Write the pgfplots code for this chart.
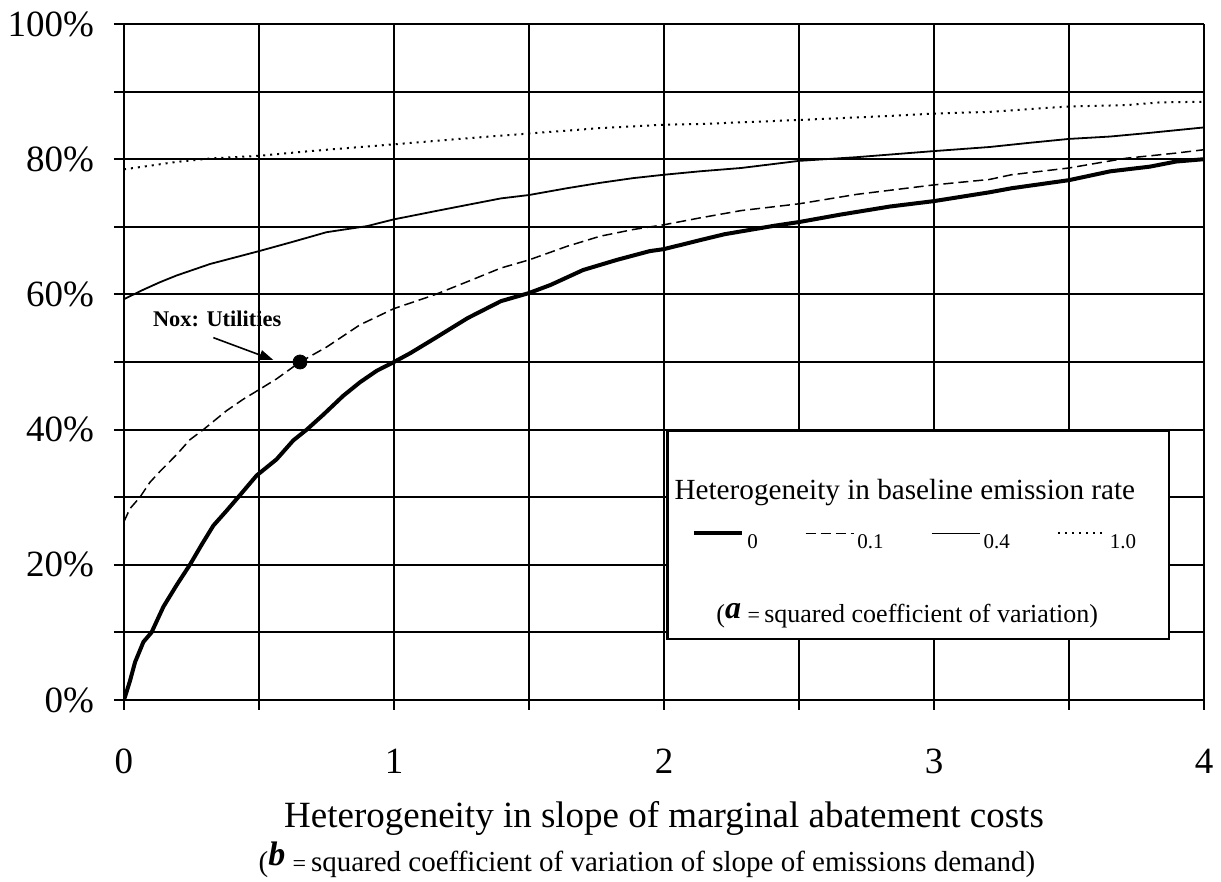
\documentclass[border=0pt]{standalone}
\usepackage{fontspec}
\setmainfont{Liberation Serif}
\usepackage{pgfplots}
\pgfplotsset{compat=1.18}
\usetikzlibrary{arrows.meta}

\pgfplotstableread{
x y
0 0
0.022 2.8
0.041 5.6
0.072 8.6
0.102 10
0.146 13.8
0.195 17
0.244 20
0.288 23
0.331 25.8
0.38 28
0.423 30
0.491 33.2
0.565 35.6
0.627 38.4
0.677 40
0.738 42.2
0.812 45
0.874 47
0.936 48.7
1.0 50
1.06 51.3
1.151 53.5
1.273 56.5
1.396 59.0
1.5 60.2
1.58 61.4
1.70 63.6
1.825 65.1
1.947 66.4
2.0 66.7
2.131 68.0
2.224 68.9
2.408 70.15
2.5 70.7
2.653 71.8
2.837 73.0
3.0 73.8
3.205 75.1
3.287 75.7
3.5 76.9
3.652 78.2
3.8 78.9
3.896 79.65
4.0 80.0
}\serA

\pgfplotstableread{
x y
0 26.4
0.022 28.3
0.059 30
0.096 32.2
0.133 33.8
0.195 36.3
0.244 38.5
0.294 40
0.38 42.8
0.442 44.5
0.5 45.9
0.565 47.5
0.652 50
0.75 52.2
0.874 55.5
1.0 57.9
1.151 59.95
1.273 61.9
1.396 63.9
1.5 65.1
1.64 67.1
1.763 68.6
1.886 69.6
2.0 70.3
2.131 71.3
2.286 72.4
2.5 73.4
2.714 74.8
3.0 76.2
3.205 77.0
3.287 77.7
3.5 78.7
3.616 79.5
3.713 80.15
3.8 80.5
3.896 80.9
4.0 81.4
}\serB

\pgfplotstableread{
x y
0 59.3
0.072 60.7
0.133 61.8
0.195 62.8
0.319 64.5
0.5 66.4
0.627 67.8
0.75 69.2
0.9 70.1
1.0 71.1
1.151 72.3
1.273 73.25
1.396 74.2
1.5 74.7
1.64 75.7
1.763 76.5
1.886 77.2
2.0 77.7
2.131 78.2
2.286 78.7
2.5 79.75
2.714 80.3
3.0 81.2
3.205 81.8
3.348 82.4
3.5 83.0
3.652 83.35
3.8 83.9
4.0 84.7
}\serC

\pgfplotstableread{
x y
0 78.5
0.072 78.9
0.195 79.6
0.319 80.1
0.5 80.5
0.69 81.2
1.0 82.2
1.273 83.1
1.5 83.8
1.763 84.6
2.0 85.1
2.131 85.2
2.5 85.8
2.837 86.4
3.0 86.75
3.205 87.0
3.348 87.4
3.5 87.8
3.713 88.0
3.835 88.4
4.0 88.5
}\serD

\begin{document}
\begin{tikzpicture}
\begin{axis}[
  scale only axis, width=540pt, height=338pt,
  xmin=0, xmax=4, ymin=0, ymax=100,
  axis x line=bottom, axis y line=left,
  axis line style={line width=1pt, -},
  xtick={0,1,2,3,4},
  minor xtick={0.5,1.5,2.5,3.5},
  ytick={0,20,...,100},
  minor ytick={10,30,50,70,90},
  grid=both,
  grid style={black},
  major grid style={black},
  minor grid style={black},
  x grid style={line width=0.6pt},
  y grid style={line width=1pt},
  tick align=outside,
  major tick length=5pt, minor tick length=5pt,
  tick style={black, line width=1pt},
  /pgf/number format/assume math mode=true,
  tick label style={font=\fontsize{18.5}{21}\selectfont},
  yticklabel={\pgfmathprintnumber{\tick}\%},
  xticklabel style={yshift=-16pt},
  yticklabel style={xshift=-6.5pt},
  xlabel={Heterogeneity in slope of marginal abatement costs\\[0pt]{\fontsize{14.5}{16}\selectfont(\raisebox{3pt}{\fontsize{17}{17}\selectfont\textbf{\textit{b}}}\ {\fontsize{12}{12}\selectfont=}\,squared coefficient of variation of slope of emissions demand)\hspace*{17pt}}},
  xlabel style={align=center, font=\fontsize{18.5}{22}\selectfont, yshift=-7pt},
  legend columns=4,
  legend style={at={(axis description cs:0.526,0.232)}, anchor=west, draw=none, fill=none,
    font=\fontsize{10.5}{12}\selectfont, inner sep=0pt,
    nodes={inner sep=1.5pt},
    /tikz/every even column/.append style={column sep=22pt}},
  legend image code/.code={\draw[#1] (0pt,5pt) -- (24pt,5pt);},
]
\draw[line width=1.2pt, fill=white] (axis cs:2.013,9.0) rectangle (axis cs:3.87,39.8);
\node[font=\fontsize{14.6}{16}\selectfont, anchor=base] at (axis cs:2.892,29.6) {Heterogeneity in baseline emission rate};
\node[font=\fontsize{13}{15}\selectfont, anchor=base] at (axis cs:2.901,11.5) {(\raisebox{2pt}{\fontsize{16}{16}\selectfont\textbf{\textit{a}}}\ {\fontsize{11}{12}\selectfont=}\,squared coefficient of variation)};

\addplot[black, line width=2pt] table[x=x,y=y] {\serA};
\addlegendentry{0}
\addplot[black, line width=0.75pt, dash pattern=on 5pt off 2.5pt] table[x=x,y=y] {\serB};
\addlegendentry{0.1}
\addplot[black, line width=0.9pt] table[x=x,y=y] {\serC};
\addlegendentry{0.4}
\addplot[black, line width=1pt, dash pattern=on 1pt off 2.5pt] table[x=x,y=y] {\serD};
\addlegendentry{1.0}

\addplot[forget plot, only marks, mark=*, mark size=3.5pt, black] coordinates {(0.652,50)};
\node[font=\bfseries\fontsize{11.2}{13}\selectfont] at (axis cs:0.345,56.4) {Nox: Utilities};
\draw[black, line width=0.8pt, -{Triangle[length=7pt,width=5pt]}] (axis cs:0.331,53.6) -- (axis cs:0.553,50.3);
\end{axis}
\pgfresetboundingbox
\path (current axis.south west) ++(-62pt,-91pt) rectangle ++(610.5pt,441pt);
\end{tikzpicture}
\end{document}
